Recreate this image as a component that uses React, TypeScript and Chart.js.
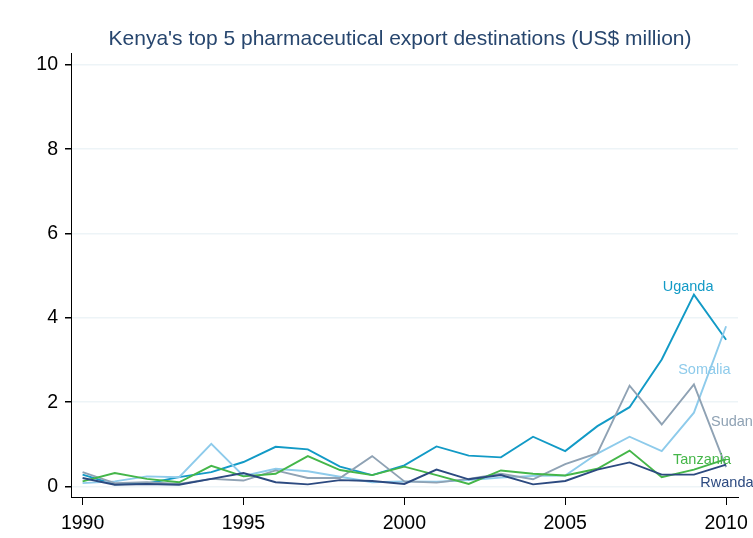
import React, { useEffect, useRef } from "react";
import { Chart, registerables } from "chart.js";

Chart.register(...registerables);

const years = [1990,1991,1992,1993,1994,1995,1996,1997,1998,1999,2000,2001,2002,2003,2004,2005,2006,2007,2008,2009,2010];
const uganda = [0.28,0.05,0.07,0.22,0.34,0.58,0.94,0.88,0.47,0.27,0.50,0.95,0.73,0.69,1.18,0.84,1.43,1.88,3.01,4.55,3.48];
const somalia = [0.08,0.12,0.24,0.22,1.01,0.25,0.42,0.36,0.23,0.10,0.12,0.11,0.15,0.21,0.25,0.26,0.78,1.18,0.84,1.75,3.80];
const sudan = [0.34,0.08,0.10,0.06,0.18,0.14,0.38,0.20,0.20,0.72,0.12,0.09,0.18,0.30,0.17,0.53,0.79,2.39,1.47,2.42,0.46];
const tanzania = [0.12,0.32,0.18,0.10,0.49,0.24,0.30,0.72,0.39,0.27,0.47,0.27,0.06,0.38,0.30,0.26,0.42,0.85,0.22,0.40,0.65];
const rwanda = [0.20,0.04,0.06,0.04,0.18,0.32,0.10,0.05,0.15,0.13,0.06,0.40,0.17,0.27,0.05,0.13,0.40,0.57,0.28,0.28,0.52];

const seriesNames = ["Rwanda", "Tanzania", "Sudan", "Somalia", "Uganda"];
const seriesValues = [rwanda, tanzania, sudan, somalia, uganda];
const seriesColors = ["#2c4a80", "#45b649", "#8fa2b4", "#8ecbeb", "#129ac6"];
// label anchors (left edge x in years, vertical centre in US$ million)
const labelX = [2009.2, 2008.35, 2009.53, 2008.51, 2008.03];
const labelY = [0.09, 0.63, 1.54, 2.77, 4.74];

const yTicks = [0, 2, 4, 6, 8, 10];
const xTicks = [1990, 1995, 2000, 2005, 2010];
const title = "Kenya's top 5 pharmaceutical export destinations (US$ million)";

const FONT = "'Liberation Sans', Arial, sans-serif";

export default function App() {
  const ref = useRef<HTMLCanvasElement | null>(null);
  useEffect(() => {
    document.body.style.margin = "0";
    const canvas = ref.current!;
    const labelPlugin = {
      id: "labels",
      afterDraw(chart: any) {
        const ctx = chart.ctx;
        const xs = chart.scales.x;
        const ys = chart.scales.y;
        ctx.save();
        ctx.textBaseline = "middle";
        ctx.textAlign = "left";
        ctx.font = `14.5px ${FONT}`;
        seriesNames.forEach((n, i) => {
          ctx.fillStyle = seriesColors[i];
          ctx.fillText(n, xs.getPixelForValue(labelX[i]), ys.getPixelForValue(labelY[i]));
        });
        ctx.font = `21px ${FONT}`;
        ctx.fillStyle = "#27466e";
        ctx.textAlign = "center";
        ctx.textBaseline = "alphabetic";
        ctx.fillText(title, 400, 45);
        ctx.restore();
      },
    };
    const chart = new Chart(canvas, {
      type: "line",
      data: {
        datasets: seriesNames.map((n, i) => ({
          label: n,
          data: years.map((y, j) => ({ x: y, y: seriesValues[i][j] })),
          borderColor: seriesColors[i],
          borderWidth: 1.9,
          pointRadius: 0,
          tension: 0,
          fill: false,
        })),
      },
      options: {
        responsive: false,
        animation: false,
        devicePixelRatio: 1,
        layout: { padding: { top: 53, right: 15, left: 0, bottom: 0 } },
        plugins: { legend: { display: false }, title: { display: false }, tooltip: { enabled: false } },
        scales: {
          x: {
            type: "linear",
            min: 1989.64,
            max: 2010.37,
            afterBuildTicks: (s: any) => { s.ticks = xTicks.map((v) => ({ value: v })); },
            afterFit: (s: any) => { s.height = 41; s.paddingLeft = 0; s.paddingRight = 0; },
            grid: { drawOnChartArea: false, drawTicks: true, tickLength: 8, tickColor: "#000", color: "#000" },
            border: { display: true, color: "#000", width: 1 },
            ticks: { color: "#000", font: { family: FONT, size: 19.5 }, padding: 7, maxRotation: 0, callback: (v: any) => String(v) },
          },
          y: {
            type: "linear",
            min: -0.25,
            max: 10.28,
            afterBuildTicks: (s: any) => { s.ticks = yTicks.map((v) => ({ value: v })); },
            afterFit: (s: any) => { s.width = 71; s.paddingTop = 0; s.paddingBottom = 0; },
            grid: { drawOnChartArea: true, drawTicks: true, tickLength: 6, tickColor: "#000", color: "#edf4f7", lineWidth: 1.5 },
            border: { display: true, color: "#000", width: 1 },
            ticks: { color: "#000", font: { family: FONT, size: 19.5 }, padding: 7, callback: (v: any) => String(v) },
          },
        },
      },
      plugins: [labelPlugin],
    } as any);
    return () => chart.destroy();
  }, []);
  return <canvas ref={ref} width={753} height={538} style={{ display: "block", width: 753, height: 538 }} />;
}
